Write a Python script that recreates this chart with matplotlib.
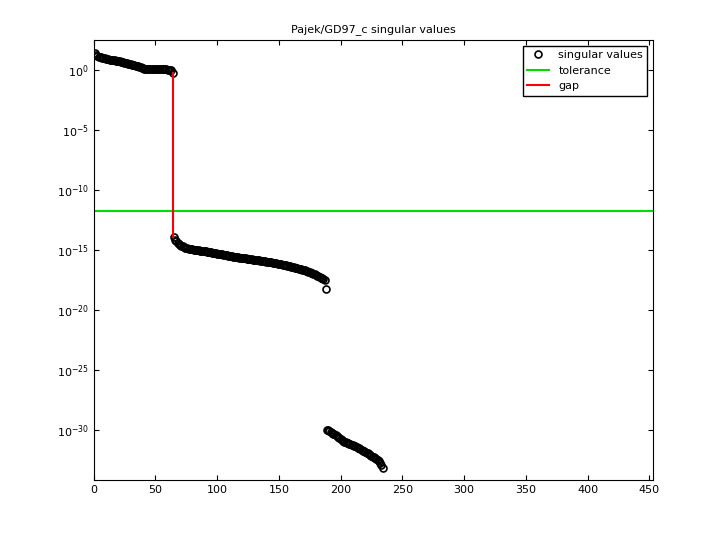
import numpy as np
import matplotlib
matplotlib.use('Agg')
import matplotlib.pyplot as plt

# log10 of singular values
seg1 = [1.38, 1.25, 1.18, 1.12, 1.08, 1.05, 1.02, 0.99, 0.96, 0.93, 0.91, 0.89, 0.87, 0.85, 0.83, 0.81,
        0.79, 0.77, 0.75, 0.73, 0.71, 0.69, 0.67, 0.65, 0.62, 0.59, 0.56, 0.53, 0.50, 0.47, 0.44, 0.41,
        0.38, 0.35, 0.32, 0.29, 0.26, 0.23, 0.20, 0.17, 0.12, 0.10, 0.10, 0.09, 0.09, 0.08, 0.08, 0.08,
        0.07, 0.07, 0.07, 0.06, 0.06, 0.06, 0.05, 0.05, 0.05, 0.04, 0.04, 0.03, 0.03, 0.02, 0.0, -0.22]
seg2 = [-13.9, -14.15, -14.3, -14.42, -14.52, -14.6, -14.66, -14.72, -14.77, -14.81,
        -14.85, -14.88, -14.91, -14.93, -14.95, -14.97, -14.99, -15.01, -15.02, -15.04,
        -15.05, -15.07, -15.08, -15.10, -15.11, -15.13, -15.14, -15.16, -15.18, -15.20,
        -15.21, -15.23, -15.25, -15.27, -15.29, -15.31, -15.33, -15.35, -15.37, -15.39,
        -15.41, -15.43, -15.45, -15.47, -15.49, -15.51, -15.53, -15.55, -15.57, -15.59,
        -15.60, -15.62, -15.63, -15.65, -15.66, -15.68, -15.69, -15.71, -15.72, -15.74,
        -15.75, -15.77, -15.78, -15.80, -15.81, -15.83, -15.84, -15.86, -15.87, -15.89,
        -15.90, -15.92, -15.93, -15.95, -15.96, -15.98, -15.99, -16.01, -16.03, -16.05,
        -16.07, -16.09, -16.11, -16.13, -16.15, -16.17, -16.19, -16.21, -16.23, -16.25,
        -16.27, -16.30, -16.32, -16.35, -16.37, -16.40, -16.42, -16.45, -16.48, -16.51,
        -16.54, -16.57, -16.60, -16.63, -16.66, -16.69, -16.72, -16.76, -16.80, -16.84,
        -16.88, -16.92, -16.96, -17.00, -17.05, -17.10, -17.15, -17.20, -17.26, -17.32,
        -17.38, -17.45, -17.52, -18.3]
seg3 = [-30.0, -30.05, -30.1, -30.17, -30.24, -30.32, -30.4, -30.48, -30.56, -30.64,
        -30.72, -30.8, -30.87, -30.94, -31.0, -31.05, -31.1, -31.14, -31.18, -31.22,
        -31.26, -31.3, -31.35, -31.4, -31.45, -31.5, -31.56, -31.62, -31.68, -31.74,
        -31.8, -31.86, -31.92, -31.98, -32.04, -32.1, -32.17, -32.24, -32.31, -32.38,
        -32.46, -32.55, -32.65, -32.78, -32.95, -33.2]
tolerance = 10 ** -11.8
n_cols = 453

logs = np.array(seg1 + seg2 + seg3)
sv = 10.0 ** logs
idx = np.arange(1, len(sv) + 1)
gap_i = len(seg1)

fig = plt.figure(figsize=(7.2, 5.4), dpi=100)
ax = fig.add_axes([0.13, 0.111, 0.777, 0.815])
ax.semilogy(idx, sv, 'o', mfc='none', mec='k', ms=5, mew=1.2, label='singular values')
ax.axhline(tolerance, color='#00dd00', lw=1.5, label='tolerance')
ax.plot([gap_i, gap_i], [sv[gap_i - 1], sv[gap_i]], color='r', lw=1.5, label='gap')
ax.set_xlim(0, n_cols)
ax.set_ylim(10 ** -34.2, 10 ** 2.5)
ax.set_xticks(range(0, 451, 50))
ax.set_yticks([10.0 ** k for k in range(-30, 1, 5)])
ax.yaxis.set_minor_locator(matplotlib.ticker.NullLocator())
ax.tick_params(direction='in', labelsize=8, top=True, right=True)
ax.set_title('Pajek/GD97_c singular values', fontsize=8)
ax.legend(loc='upper right', fontsize=8, fancybox=False, edgecolor='k', framealpha=1)
fig.savefig('out.png')
